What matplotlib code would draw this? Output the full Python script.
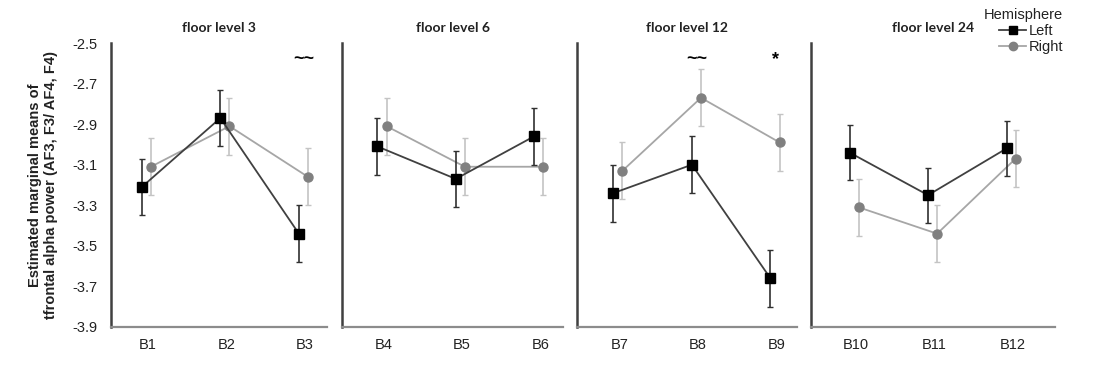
import numpy as np
import matplotlib
matplotlib.use('Agg')
import matplotlib.pyplot as plt
from matplotlib.lines import Line2D

plt.rcParams['font.family'] = ['Liberation Sans', 'DejaVu Sans']

# panel titles and tick labels
titles = ['floor level 3', 'floor level 6', 'floor level 12', 'floor level 24']
blocks = [['B1', 'B2', 'B3'], ['B4', 'B5', 'B6'], ['B7', 'B8', 'B9'], ['B10', 'B11', 'B12']]

# estimated marginal means per panel
left_means = [[-3.21, -2.87, -3.44],
              [-3.01, -3.17, -2.96],
              [-3.24, -3.10, -3.66],
              [-3.04, -3.25, -3.02]]
right_means = [[-3.11, -2.91, -3.16],
               [-2.91, -3.11, -3.11],
               [-3.13, -2.77, -2.99],
               [-3.31, -3.44, -3.07]]
left_err = [[0.14, 0.14, 0.14],
            [0.14, 0.14, 0.14],
            [0.14, 0.14, 0.14],
            [0.135, 0.135, 0.135]]
right_err = [[0.14, 0.14, 0.14],
             [0.14, 0.14, 0.14],
             [0.14, 0.14, 0.14],
             [0.14, 0.14, 0.14]]

# significance marks: (panel, category index, label)
marks = [(0, 2, '~~'), (2, 1, '~~'), (2, 2, '*')]
mark_y = -2.58

yticks = [-2.5, -2.7, -2.9, -3.1, -3.3, -3.5, -3.7, -3.9]

# pixel geometry of panels (left, right) and x-limits
panel_px = [(111, 327), (342, 563), (577, 797), (811, 1055)]
xlims = [(-0.45, 2.30), (-0.51, 2.31), (-0.52, 2.28), (-0.55, 2.56)]

W, H = 1099, 369
fig = plt.figure(figsize=(W / 100, H / 100), dpi=100)

dodge = 0.058
left_line = '#404040'
right_line = '#a6a6a6'
right_marker = '#808080'
right_ebar = '#c4c4c4'

for i in range(4):
    x0, x1 = panel_px[i]
    ax = fig.add_axes([x0 / W, 1 - 327 / H, (x1 - x0) / W, 284 / H])
    x = np.arange(3)

    ax.errorbar(x + dodge, right_means[i], yerr=right_err[i], color=right_line,
                ecolor=right_ebar, elinewidth=1.2, capsize=2.5, capthick=1.0,
                marker='o', markersize=6.5, markerfacecolor=right_marker,
                markeredgecolor=right_marker, linewidth=1.3, zorder=2)
    ax.errorbar(x - dodge, left_means[i], yerr=left_err[i], color=left_line,
                ecolor='#303030', elinewidth=1.2, capsize=2.5, capthick=1.0,
                marker='s', markersize=7, markerfacecolor='black',
                markeredgecolor='black', linewidth=1.3, zorder=3)

    ax.set_xlim(*xlims[i])
    ax.set_ylim(-3.9, -2.5)
    ax.set_xticks(x + 0.02)
    ax.set_xticklabels(blocks[i], fontsize=10.5, color='#222222')
    ax.set_yticks(yticks)
    if i == 0:
        ax.set_yticklabels(['%.1f' % v for v in yticks], fontsize=10.5, color='#222222')
        ax.set_ylabel('Estimated marginal means of\ntfrontal alpha power (AF3, F3/ AF4, F4)',
                      fontsize=10.5, fontweight='bold', color='#222222', labelpad=10)
    else:
        ax.set_yticklabels([])
    ax.tick_params(length=0, pad=8)
    ax.tick_params(axis='y', pad=10)

    for s in ['top', 'right']:
        ax.spines[s].set_visible(False)
    ax.spines['left'].set_color('#404040')
    ax.spines['left'].set_linewidth(1.8)
    ax.spines['bottom'].set_color('#8c8c8c')
    ax.spines['bottom'].set_linewidth(1.6)

    ax.set_title(titles[i], fontsize=10, fontweight='bold', color='#222222', pad=8,
                 family=['Lato', 'DejaVu Sans'])

    for p, c, lab in marks:
        if p == i:
            ax.text(c, mark_y, lab, ha='center', va='center', fontsize=13,
                    fontweight='bold', color='black')

handles = [Line2D([], [], color=left_line, marker='s', markersize=6,
                  markerfacecolor='black', markeredgecolor='black', linewidth=1.3),
           Line2D([], [], color=right_line, marker='o', markersize=6,
                  markerfacecolor=right_marker, markeredgecolor=right_marker, linewidth=1.3)]
leg = fig.legend(handles, ['Left', 'Right'], title='Hemisphere', loc='upper right',
                 bbox_to_anchor=(0.978, 1.01), frameon=False, fontsize=10.5, title_fontsize=10.5,
                 handlelength=1.8, handletextpad=0.2, labelspacing=0.15, borderpad=0.3)
leg._legend_box.align = 'right'
leg.get_title().set_color('#222222')
for t in leg.get_texts():
    t.set_color('#222222')

fig.savefig('out.png', dpi=100)
